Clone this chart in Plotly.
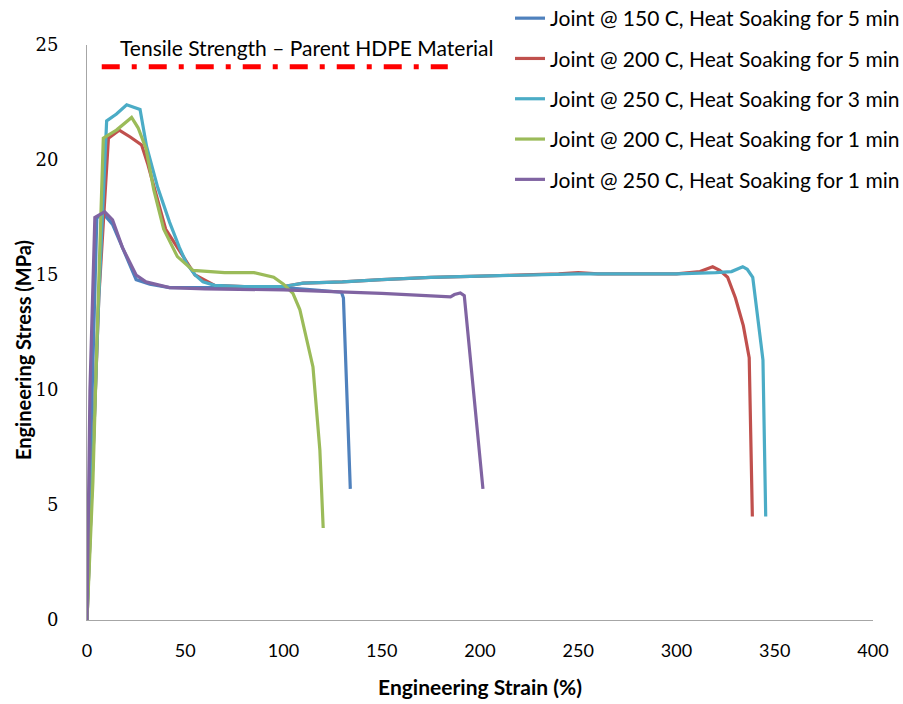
import plotly.graph_objects as go

# ---- data ----
names = [
    "Joint @ 150 C, Heat Soaking for 5 min",
    "Joint @ 200 C, Heat Soaking for 5 min",
    "Joint @ 250 C, Heat Soaking for 3 min",
    "Joint @ 200 C, Heat Soaking for 1 min",
    "Joint @ 250 C, Heat Soaking for 1 min",
]
colors = ["#4F81BD", "#C0504D", "#4BACC6", "#9BBB59", "#8064A2"]

strain_150_5 = [0, 2, 5, 9, 13, 18, 25, 32, 42, 60, 80, 100, 115, 129.5, 130.5, 134]
stress_150_5 = [0, 8, 17.5, 17.6, 17.2, 16.2, 14.8, 14.6, 14.45, 14.45, 14.45, 14.45, 14.35, 14.25, 14.0, 5.7]

strain_200_5 = [0, 3, 6, 10.9, 16.4, 22, 27.8, 31, 40, 55, 65, 80, 100, 110, 130, 150, 175, 200, 225,
                240, 250, 260, 300, 312, 318.4, 322, 326, 330, 334, 337, 338.6]
stress_200_5 = [0, 7, 14, 20.95, 21.3, 21.0, 20.65, 19.8, 17.0, 15.0, 14.55, 14.5, 14.5, 14.65, 14.7,
                14.8, 14.9, 14.95, 15.0, 15.05, 15.1, 15.05, 15.05, 15.15, 15.36, 15.2, 14.9, 14.0, 12.8,
                11.4, 4.5]

strain_250_3 = [0, 3, 6, 10, 15, 20.2, 24, 27, 30.3, 36, 42, 47, 50.7, 55, 59, 65, 80, 100, 110, 130,
                150, 175, 200, 225, 250, 275, 300, 320, 328, 333.7, 336, 338.8, 341, 343, 344, 345.4]
stress_250_3 = [0, 7, 14, 21.7, 22.0, 22.4, 22.3, 22.2, 20.6, 18.8, 17.3, 16.2, 15.5, 15.0, 14.7, 14.55,
                14.5, 14.5, 14.65, 14.7, 14.8, 14.9, 14.95, 15.0, 15.05, 15.05, 15.05, 15.1, 15.15, 15.36,
                15.25, 14.9, 13.5, 12.0, 11.3, 4.5]

strain_200_1 = [0, 3, 5, 8.3, 15, 22.7, 26, 30, 34, 39, 46, 54, 70, 85, 95, 100, 104.8, 108.3, 115,
                118.5, 120.2]
stress_200_1 = [0, 6, 12, 20.95, 21.3, 21.85, 21.4, 20.5, 18.7, 17.0, 15.8, 15.2, 15.1, 15.1, 14.9,
                14.6, 14.2, 13.5, 11.0, 7.4, 4.0]

strain_250_1 = [0, 1.5, 4, 9, 13, 18, 25, 30, 42, 60, 100, 150, 185, 187, 190, 192, 201.5]
stress_250_1 = [0, 10, 17.5, 17.75, 17.4, 16.2, 15.0, 14.7, 14.45, 14.4, 14.35, 14.2, 14.05, 14.15,
                14.22, 14.1, 5.7]

parent_strain = [7.5, 183.6]
parent_stress = [24.05, 24.05]
parent_label = "Tensile Strength \u2013 Parent HDPE Material"

x_title = "Engineering Strain (%)"
y_title = "Engineering Stress (MPa)"
x_ticks = [0, 50, 100, 150, 200, 250, 300, 350, 400]
y_ticks = [0, 5, 10, 15, 20, 25]

series = [
    (strain_150_5, stress_150_5),
    (strain_200_5, stress_200_5),
    (strain_250_3, stress_250_3),
    (strain_200_1, stress_200_1),
    (strain_250_1, stress_250_1),
]

fig = go.Figure()
fig.add_trace(go.Scatter(
    x=parent_strain, y=parent_stress, mode="lines", showlegend=False,
    line=dict(color="#FF0000", width=5, dash="18px,12px,5px,12px"), hoverinfo="skip"))

for i, ((xs, ys), nm, col) in enumerate(zip(series, names, colors)):
    fig.add_trace(go.Scatter(
        x=xs, y=ys, mode="lines", name=nm, legendgroup=str(i),
        line=dict(color=col, width=3.2)))

fig.add_annotation(x=16, y=24.9, xref="x", yref="y", text=parent_label,
                   showarrow=False, xanchor="left", yanchor="middle",
                   font=dict(family="Lato", size=21, color="#000000"))

# y-axis title placed as rotated text (reference title sits below the axis centre)
fig.add_annotation(x=(23 - 87) / 786, y=(620 - 350) / 575, xref="paper", yref="paper",
                   text="<b>" + y_title + "</b>", textangle=-90, showarrow=False,
                   xanchor="center", yanchor="middle",
                   font=dict(family="Lato", size=20, color="#000000"))

fig.update_layout(
    width=903, height=704,
    margin=dict(l=87, r=30, t=45, b=84, autoexpand=False),
    paper_bgcolor="white", plot_bgcolor="white",
    legend=dict(x=(510 - 87) / 786, y=1 + 47 / 575, xanchor="left", yanchor="top",
                font=dict(family="Lato", size=21, color="#000000"),
                tracegroupgap=10, bgcolor="rgba(0,0,0,0)"),
    xaxis=dict(range=[0, 400], tickvals=x_ticks, showgrid=False, zeroline=False,
               showline=True, linecolor="#A6A6A6", linewidth=1,
               tickfont=dict(family="Lato", size=18, color="#000000"),
               ticklabelstandoff=14,
               title=dict(text="<b>" + x_title + "</b>", standoff=20,
                          font=dict(family="Lato", size=21, color="#000000"))),
    yaxis=dict(range=[0, 25], tickvals=y_ticks, showgrid=False, zeroline=False,
               showline=True, linecolor="#A6A6A6", linewidth=1,
               tickfont=dict(family="DejaVu Serif", size=18, color="#000000"),
               ticklabelstandoff=24),
)

fig.write_html("out.html")
